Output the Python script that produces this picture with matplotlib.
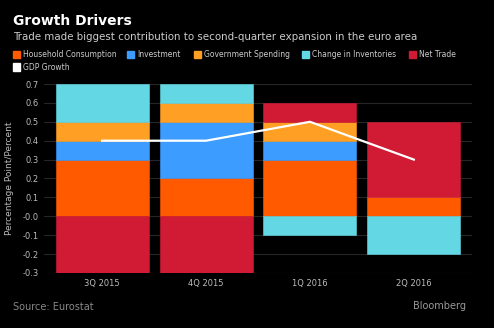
import numpy as np
import matplotlib
matplotlib.use("Agg")
import matplotlib.pyplot as plt
from matplotlib.patches import Rectangle

quarters = ["3Q 2015", "4Q 2015", "1Q 2016", "2Q 2016"]
household = [0.3, 0.2, 0.3, 0.1]
investment = [0.1, 0.3, 0.1, 0.0]
government = [0.1, 0.1, 0.1, 0.0]
inventories = [0.2, 0.1, -0.1, -0.2]
net_trade = [-0.3, -0.3, 0.1, 0.4]
gdp_growth = [0.4, 0.4, 0.5, 0.3]

series = [
    ("Household Consumption", household, "#ff5a00"),
    ("Investment", investment, "#3d9cff"),
    ("Government Spending", government, "#ff9f24"),
    ("Change in Inventories", inventories, "#63d8e4"),
    ("Net Trade", net_trade, "#d11a33"),
]

bg = "#000000"
fig = plt.figure(figsize=(4.94, 3.28), dpi=100, facecolor=bg)
ax = fig.add_axes([44 / 494, 1 - 273 / 328, (472 - 44) / 494, (273 - 84) / 328])
ax.set_facecolor(bg)

x = np.arange(len(quarters))
pos_base = np.zeros(len(quarters))
neg_base = np.zeros(len(quarters))
for name, vals, col in series:
    vals = np.array(vals)
    bottoms = np.where(vals >= 0, pos_base, neg_base)
    ax.bar(x, vals, width=0.895, bottom=bottoms, color=col, edgecolor=col,
           linewidth=0.4, zorder=2)
    pos_base += np.clip(vals, 0, None)
    neg_base += np.clip(vals, None, 0)

ax.plot(x, gdp_growth, color="white", linewidth=1.6, zorder=3)

ax.set_xlim(-0.56, 3.56)
ax.set_ylim(-0.3, 0.7)
yt = np.arange(-0.3, 0.71, 0.1)
ax.set_yticks(yt)
ax.set_yticklabels(["-0.3", "-0.2", "-0.1", "-0.0", "0.1", "0.2", "0.3",
                    "0.4", "0.5", "0.6", "0.7"])
ax.set_xticks(x)
ax.set_xticklabels(quarters)
ax.tick_params(colors="#bbbbbb", labelsize=6, length=0, pad=4)
ax.grid(axis="y", color="#262626", linewidth=0.8, zorder=0)
for s in ax.spines.values():
    s.set_visible(False)
ax.set_ylabel("Percentage Point/Percent", color="#bbbbbb", fontsize=6.5, labelpad=6)

fig.text(13 / 494, 1 - 21 / 328, "Growth Drivers", color="white", fontsize=10,
         fontweight="bold", va="center", ha="left")
fig.text(13 / 494, 1 - 37 / 328,
         "Trade made biggest contribution to second-quarter expansion in the euro area",
         color="#cccccc", fontsize=7.4, va="center", ha="left")

legend_x = [13, 127, 194, 302, 409]
for (name, vals, col), lx in zip(series, legend_x):
    fig.patches.append(Rectangle((lx / 494, 1 - 58 / 328), 7 / 494, 7 / 328,
                                 transform=fig.transFigure, color=col, figure=fig))
    fig.text((lx + 10) / 494, 1 - 54.5 / 328, name, color="#cccccc", fontsize=5.5,
             va="center", ha="left")
fig.patches.append(Rectangle((13 / 494, 1 - 70.5 / 328), 7 / 494, 7 / 328,
                             transform=fig.transFigure, color="white", figure=fig))
fig.text(23 / 494, 1 - 67 / 328, "GDP Growth", color="#cccccc", fontsize=5.5,
         va="center", ha="left")

fig.text(13 / 494, 1 - 307 / 328, "Source: Eurostat", color="#888888", fontsize=7,
         va="center", ha="left")
fig.text(466 / 494, 1 - 306 / 328, "Bloomberg", color="#999999", fontsize=7,
         va="center", ha="right")

fig.savefig("out.png", dpi=100, facecolor=bg)
